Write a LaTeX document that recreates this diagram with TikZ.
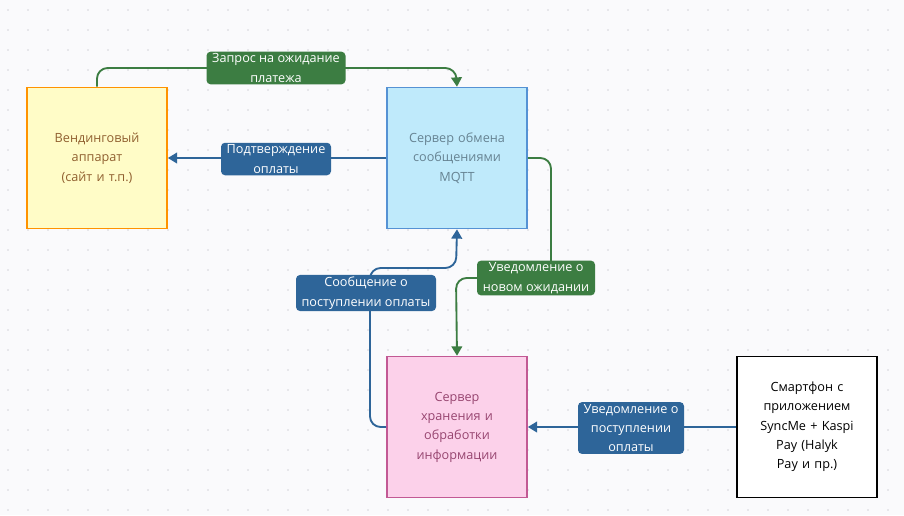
\documentclass[tikz,border=0pt]{standalone}
\usepackage{fontspec}
\setmainfont{Open Sans}
\usetikzlibrary{arrows.meta}
\definecolor{bg}{HTML}{FAFAFC}
\definecolor{gdot}{HTML}{D4D4DA}
\definecolor{gr}{HTML}{3C7D42}
\definecolor{bl}{HTML}{2E6599}
\begin{document}
\begin{tikzpicture}[x=0.75pt,y=-0.75pt,
  box/.style={draw,line width=1.2pt,minimum width=140*0.75pt,minimum height=141*0.75pt,align=center,text width=100*0.75pt,font=\fontsize{9.5}{14.5}\selectfont},
  lab/.style={rounded corners=3pt,text=white,align=center,font=\fontsize{9.5}{14.5}\selectfont,inner sep=1.5pt},
  con/.style={line width=1.4pt,rounded corners=8pt},
  tip/.style={-{Triangle[length=7pt,width=8pt]}}]
\fill[bg] (0,0) rectangle (904,515);
\useasboundingbox (0,0) rectangle (904,515);
\foreach \i in {0,...,45} \foreach \j in {0,...,25} \fill[gdot] (\i*20+8,\j*20+10) circle (0.7pt);
\node[box,draw=orange!85!yellow,fill=yellow!22,text=brown!75!black] (v) at (97,158) {Вендинговый аппарат (сайт и т.п.)};
\node[box,draw=cyan!55!blue!70,fill=cyan!25,text=cyan!40!black!80] (m) at (457,158) {Сервер обмена сообщениями MQTT};
\node[box,draw=magenta!70!black!80,fill=magenta!18,text=magenta!55!black] (s) at (457,427) {Сервер хранения и обработки информации};
\node[box,draw=black,fill=white,text=black] (p) at (807,427) {Смартфон с приложением SyncMe + Kaspi Pay (Halyk Pay и пр.)};
\coordinate (a1) at (97,68);
\draw[con,gr,tip] (v.north) -- (a1) -- (456,68) -- (m.north);
\draw[con,bl,tip] (m.west) -- (v.east);
\draw[con,bl,tip] (s.west) -- (370,427) -- (370,268) -- (456,268) -- (m.south);
\draw[con,gr,tip] (m.east) -- (551,158) -- (551,278) -- (456,278) -- (s.north);
\draw[con,bl,tip] (p.west) -- (s.east);
\node[lab,fill=gr,minimum width=139*0.75pt] (l1) at (276,68) {Запрос на ожидание\\платежа};
\node[lab,fill=bl,minimum width=110*0.75pt] (l2) at (276,159) {Подтверждение\\оплаты};
\node[lab,fill=bl,minimum width=140*0.75pt] (l3) at (366,293) {Сообщение о\\поступлении оплаты};
\node[lab,fill=gr,minimum width=118*0.75pt] (l4) at (536,278) {Уведомление о\\новом ожидании};
\node[lab,fill=bl,minimum width=106*0.75pt] (l5) at (631,428) {Уведомление о\\поступлении\\оплаты};
\end{tikzpicture}
\end{document}
